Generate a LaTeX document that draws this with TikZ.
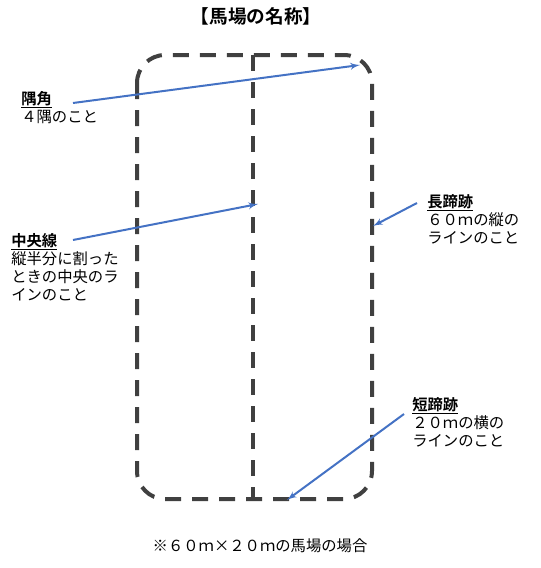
\documentclass[tikz,border=0pt]{standalone}
\usepackage{fontspec}
\setmainfont{Noto Sans CJK JP}[BoldFont={Noto Sans CJK JP Bold}]
\usetikzlibrary{arrows}
\definecolor{arrowblue}{RGB}{68,114,196}
\definecolor{trackgray}{RGB}{64,64,64}

\begin{document}
\begin{tikzpicture}[>=latex',x=0.75pt,y=-0.75pt,
  track/.style={trackgray,line width=3pt,dash pattern=on 12pt off 8.25pt},
  pointer/.style={arrowblue,line width=1.5pt,->},
  notebox/.style={anchor=north west,align=left,inner sep=0pt,
    font=\fontsize{11.5}{13.5}\selectfont}]
%%
\useasboundingbox (0,0) rectangle (541,568);
\node (title) at (256,16) [font=\fontsize{14}{16}\bfseries\selectfont] {【馬場の名称】};
  % arena outline and centre line
  \draw [track,rounded corners=21pt] (137,55) rectangle (372,499);
  \draw [track] (253,55) -- (253,499);
  % labels
  \node (kaku) at (21,91) [notebox] {\underline{\textbf{隅角}}\\４隅のこと};
  \node (chuo) at (11,233) [notebox] {\underline{\textbf{中央線}}\\縦半分に割った\\ときの中央のラ\\インのこと};
  \node (cho) at (427,194) [notebox] {\underline{\textbf{長蹄跡}}\\６０ｍの縦の\\ラインのこと};
  \node (tan) at (412,397) [notebox] {\underline{\textbf{短蹄跡}}\\２０ｍの横の\\ラインのこと};
  \node (note) at (260,546) [font=\fontsize{11.5}{13}\selectfont] {※６０ｍ×２０ｍの馬場の場合};
  % arrow ends
  \coordinate (kakuS) at (73,103);
  \coordinate (kakuE) at (360,65);
  \coordinate (chuoS) at (73,240);
  \coordinate (chuoE) at (258,204);
  \coordinate (choS) at (417,203);
  \coordinate (choE) at (373,226);
  \coordinate (tanS) at (404,414);
  \coordinate (tanE) at (287,500);
  \draw [pointer] (kakuS) -- (kakuE);
  \draw [pointer] (chuoS) -- (chuoE);
  \draw [pointer] (choS) -- (choE);
  \draw [pointer] (tanS) -- (tanE);
%
\end{tikzpicture}
\end{document}
